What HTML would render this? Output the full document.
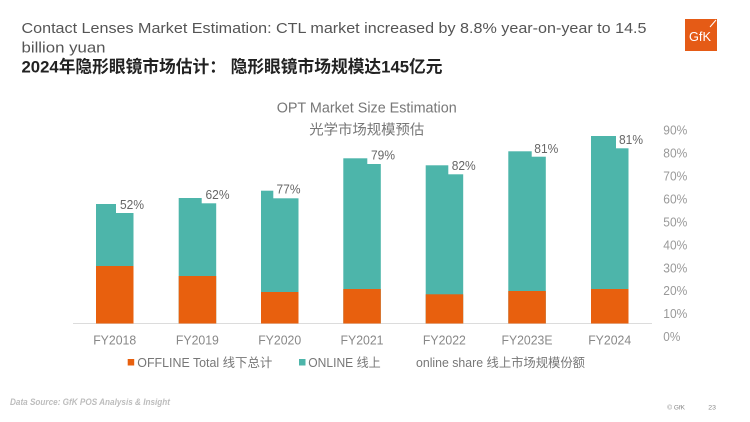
<!DOCTYPE html>
<html>
<head>
<meta charset="utf-8">
<style>
  html,body{margin:0;padding:0;background:#fff;}
  svg{display:block;}
  text{font-family:"Liberation Sans","Noto Sans CJK SC",sans-serif;}
</style>
</head>
<body>
<svg width="750" height="422" viewBox="0 0 750 422" xmlns="http://www.w3.org/2000/svg">
  <rect x="0" y="0" width="750" height="422" fill="#ffffff"/>

  <!-- Header -->
  <text x="21.5" y="33" font-size="15" fill="#555" textLength="625" lengthAdjust="spacingAndGlyphs">Contact Lenses Market Estimation: CTL market increased by 8.8% year-on-year to 14.5</text>
  <text x="21.5" y="52.5" font-size="15" fill="#555" textLength="84" lengthAdjust="spacingAndGlyphs">billion yuan</text>
  <text x="21.5" y="72.5" font-size="17" font-weight="bold" fill="#222" textLength="421" lengthAdjust="spacingAndGlyphs">2024年隐形眼镜市场估计： 隐形眼镜市场规模达145亿元</text>

  <!-- GfK logo -->
  <rect x="685" y="19" width="32" height="32" fill="#E55B16"/>
  <text x="700" y="41" font-size="12.5" fill="#fff" text-anchor="middle" textLength="22" lengthAdjust="spacingAndGlyphs">GfK</text>
  <line x1="710" y1="27" x2="716" y2="20" stroke="#fff" stroke-width="1"/>

  <!-- Chart title -->
  <text x="276.7" y="112.5" font-size="15" fill="#777" textLength="180" lengthAdjust="spacingAndGlyphs">OPT Market Size Estimation</text>
  <text x="309.3" y="134.5" font-size="14.4" fill="#777" textLength="115" lengthAdjust="spacingAndGlyphs">光学市场规模预估</text>

  <!-- Baseline -->
  <line x1="73" y1="323.5" x2="652" y2="323.5" stroke="#dcdcdc" stroke-width="1"/>

  <!-- Bars: teal (online) on top of orange (offline) -->
  <g>
    <rect x="96" y="204" width="37.5" height="119.5" fill="#4DB5AA"/>
    <rect x="96" y="266" width="37.5" height="57.5" fill="#E8600E"/>

    <rect x="178.7" y="198" width="37.5" height="125.5" fill="#4DB5AA"/>
    <rect x="178.7" y="276" width="37.5" height="47.5" fill="#E8600E"/>

    <rect x="261" y="190.7" width="37.5" height="132.8" fill="#4DB5AA"/>
    <rect x="261" y="292" width="37.5" height="31.5" fill="#E8600E"/>

    <rect x="343.3" y="158.3" width="37.5" height="165.2" fill="#4DB5AA"/>
    <rect x="343.3" y="289" width="37.5" height="34.5" fill="#E8600E"/>

    <rect x="425.7" y="165.3" width="37.5" height="158.2" fill="#4DB5AA"/>
    <rect x="425.7" y="294.3" width="37.5" height="29.2" fill="#E8600E"/>

    <rect x="508.3" y="151.3" width="37.5" height="172.2" fill="#4DB5AA"/>
    <rect x="508.3" y="291" width="37.5" height="32.5" fill="#E8600E"/>

    <rect x="591" y="136" width="37.5" height="187.5" fill="#4DB5AA"/>
    <rect x="591" y="289" width="37.5" height="34.5" fill="#E8600E"/>
  </g>

  <!-- Label boxes (white) and percentage labels -->
  <g font-size="12.5" fill="#666">
    <rect x="116" y="195" width="32" height="18" fill="#fff"/>
    <text x="120" y="208.8" textLength="24" lengthAdjust="spacingAndGlyphs">52%</text>

    <rect x="201.7" y="185" width="32" height="18.3" fill="#fff"/>
    <text x="205.5" y="198.8" textLength="24" lengthAdjust="spacingAndGlyphs">62%</text>

    <rect x="273.3" y="180" width="32" height="18.3" fill="#fff"/>
    <text x="276.5" y="193.5" textLength="24" lengthAdjust="spacingAndGlyphs">77%</text>

    <rect x="367.3" y="146" width="32" height="18" fill="#fff"/>
    <text x="371" y="159.5" textLength="24" lengthAdjust="spacingAndGlyphs">79%</text>

    <rect x="448.3" y="156" width="32" height="18.3" fill="#fff"/>
    <text x="451.7" y="170.2" textLength="24" lengthAdjust="spacingAndGlyphs">82%</text>

    <rect x="531.7" y="139" width="32" height="17.7" fill="#fff"/>
    <text x="534.3" y="152.8" textLength="24" lengthAdjust="spacingAndGlyphs">81%</text>

    <rect x="616" y="130" width="32" height="18.3" fill="#fff"/>
    <text x="619" y="143.8" textLength="24" lengthAdjust="spacingAndGlyphs">81%</text>
  </g>

  <!-- Right axis -->
  <g font-size="12.5" fill="#999">
    <text x="663.3" y="134.5" textLength="24" lengthAdjust="spacingAndGlyphs">90%</text>
    <text x="663.3" y="157.5" textLength="24" lengthAdjust="spacingAndGlyphs">80%</text>
    <text x="663.3" y="180.4" textLength="24" lengthAdjust="spacingAndGlyphs">70%</text>
    <text x="663.3" y="203.4" textLength="24" lengthAdjust="spacingAndGlyphs">60%</text>
    <text x="663.3" y="226.3" textLength="24" lengthAdjust="spacingAndGlyphs">50%</text>
    <text x="663.3" y="249.3" textLength="24" lengthAdjust="spacingAndGlyphs">40%</text>
    <text x="663.3" y="272.3" textLength="24" lengthAdjust="spacingAndGlyphs">30%</text>
    <text x="663.3" y="295.2" textLength="24" lengthAdjust="spacingAndGlyphs">20%</text>
    <text x="663.3" y="318.2" textLength="24" lengthAdjust="spacingAndGlyphs">10%</text>
    <text x="663.3" y="341.2" textLength="17" lengthAdjust="spacingAndGlyphs">0%</text>
  </g>

  <!-- X axis labels -->
  <g font-size="12.5" fill="#888" text-anchor="middle">
    <text x="114.7" y="344.5" textLength="43" lengthAdjust="spacingAndGlyphs">FY2018</text>
    <text x="197.4" y="344.5" textLength="43" lengthAdjust="spacingAndGlyphs">FY2019</text>
    <text x="279.7" y="344.5" textLength="43" lengthAdjust="spacingAndGlyphs">FY2020</text>
    <text x="362" y="344.5" textLength="43" lengthAdjust="spacingAndGlyphs">FY2021</text>
    <text x="444.4" y="344.5" textLength="43" lengthAdjust="spacingAndGlyphs">FY2022</text>
    <text x="527" y="344.5" textLength="51" lengthAdjust="spacingAndGlyphs">FY2023E</text>
    <text x="609.7" y="344.5" textLength="43" lengthAdjust="spacingAndGlyphs">FY2024</text>
  </g>

  <!-- Legend -->
  <rect x="127.7" y="359" width="6.5" height="6.5" fill="#E8600E"/>
  <text x="137.3" y="366.8" font-size="12.5" fill="#777" textLength="135" lengthAdjust="spacingAndGlyphs">OFFLINE Total 线下总计</text>
  <rect x="299" y="359" width="6.5" height="6.5" fill="#4DB5AA"/>
  <text x="308.3" y="366.8" font-size="12.5" fill="#777" textLength="72.4" lengthAdjust="spacingAndGlyphs">ONLINE 线上</text>
  <text x="416" y="366.8" font-size="12.5" fill="#777" textLength="169" lengthAdjust="spacingAndGlyphs">online share 线上市场规模份额</text>

  <!-- Footer -->
  <text x="10" y="404.8" font-size="9" font-style="italic" font-weight="bold" fill="#bdbdbd" textLength="160" lengthAdjust="spacingAndGlyphs">Data Source: GfK POS Analysis &amp; Insight</text>
  <text x="667.3" y="409.5" font-size="6.5" fill="#888" textLength="17.7" lengthAdjust="spacingAndGlyphs">© GfK</text>
  <text x="708.3" y="409.5" font-size="6.5" fill="#888" textLength="7.7" lengthAdjust="spacingAndGlyphs">23</text>
</svg>
</body>
</html>
